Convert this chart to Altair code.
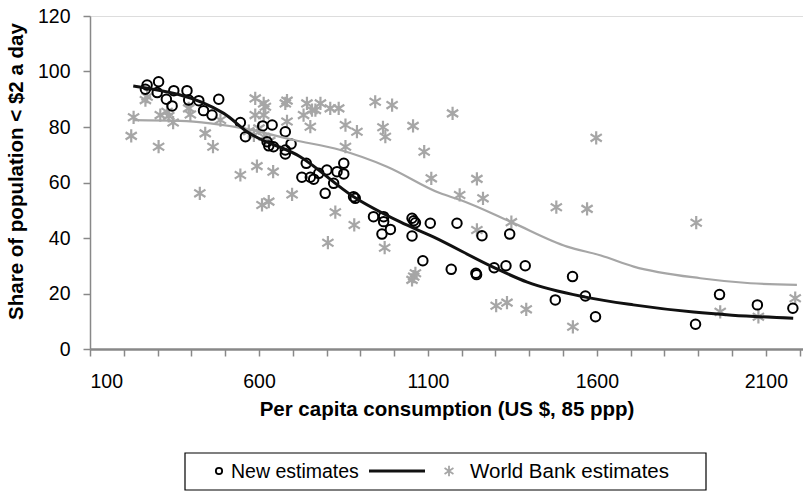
import altair as alt
import pandas as pd

# New estimates (open circles)
new_x = [269, 264, 303, 299, 326, 348, 343, 387, 392, 422, 436, 461, 481, 545, 560,
         611, 639, 678, 624, 629, 643, 678, 678, 695, 740, 727, 752, 762, 777, 801,
         831, 851, 851, 821, 796, 880, 885, 939, 969, 969, 989, 964, 1053, 1058, 1063,
         1107, 1053, 1186, 1085, 1169, 1242, 1244, 1260, 1342, 1296, 1331, 1388, 1528,
         1477, 1566, 1596, 1892, 1963, 2075, 2180]
new_y = [95.1, 93.6, 96.3, 92.4, 90.0, 93.1, 87.6, 93.1, 89.7, 89.5, 85.9, 84.3, 90.0, 81.6, 76.5,
         80.4, 80.7, 78.3, 74.7, 73.2, 72.9, 71.7, 70.3, 73.9, 66.9, 61.9, 61.9, 61.2, 63.3, 64.5,
         63.9, 66.9, 63.1, 59.7, 56.1, 54.9, 54.3, 47.7, 47.7, 45.9, 43.1, 41.4, 47.1, 46.2, 45.5,
         45.3, 40.7, 45.3, 31.8, 28.7, 27.3, 26.8, 40.8, 41.4, 29.3, 30.0, 30.0, 26.1,
         17.7, 19.1, 11.6, 8.9, 19.6, 15.9, 14.7]

# World Bank estimates (asterisks)
wb_x = [222, 229, 264, 269, 303, 308, 328, 333, 346, 392, 397, 425, 441, 464, 486,
        545, 570, 585, 589, 589, 594, 600, 609, 614, 614, 619, 615, 629, 632, 642,
        678, 683, 683, 698, 732, 742, 752, 757, 767, 782, 804, 811, 826, 836, 856,
        856, 882, 890, 944, 967, 972, 974, 994, 1053, 1058, 1063, 1056, 1089, 1110, 1173,
        1194, 1245, 1245, 1263, 1302, 1334, 1347, 1391, 1480, 1529, 1571, 1598, 1894, 1965,
        2078, 2187]
wb_y = [76.8, 83.5, 89.7, 90.9, 72.9, 84.3, 85.5, 84.0, 81.6, 86.7, 84.5, 56.1, 77.7, 72.9, 82.5,
        62.7, 78.5, 77.0, 90.3, 84.3, 65.9, 79.5, 51.9, 88.5, 84.3, 87.3, 76.5, 53.1, 75.0, 63.9,
        88.5, 89.5, 82.0, 55.7, 84.3, 88.5, 80.1, 86.1, 86.1, 88.5, 38.3, 86.7, 49.3, 86.7, 80.7,
        72.9, 44.7, 78.3, 89.1, 79.9, 36.5, 76.5, 87.9, 24.9, 26.1, 27.3, 80.4, 71.1, 61.5, 84.9,
        55.5, 61.3, 42.9, 54.3, 15.6, 16.7, 45.7, 14.3, 51.1, 8.0, 50.5, 76.1, 45.5, 13.4,
        11.6, 18.3]

# Smoothed fits
new_fit_x = [228, 496, 565, 722, 880, 1018, 1116, 1293, 1394, 1566, 1708, 1886, 2000, 2181]
new_fit_y = [94.8, 84.9, 78.3, 69.3, 54.9, 45.8, 40.4, 29.5, 24.1, 18.7, 15.9, 13.3, 12.2, 11.1]
wb_fit_x = [229, 367, 456, 555, 703, 841, 979, 1137, 1196, 1344, 1512, 1612, 1709, 1906, 2054, 2192]
wb_fit_y = [82.5, 82.2, 81.3, 79.5, 75.3, 71.7, 65.7, 56.1, 53.7, 45.9, 36.9, 33.7, 29.7, 25.5, 23.7, 23.1]

legend_labels = ["New estimates", "World Bank estimates"]

FONT = "Liberation Sans"
GRAY = "#a6a6a6"
ASTERISK = "M0,-1L0,1M-0.85,-0.55L0.85,0.55M-0.85,0.55L0.85,-0.55"

new_df = pd.DataFrame({"x": new_x, "y": new_y})
wb_df = pd.DataFrame({"x": wb_x, "y": wb_y})
new_fit = pd.DataFrame({"x": new_fit_x, "y": new_fit_y})
wb_fit = pd.DataFrame({"x": wb_fit_x, "y": wb_fit_y})

x_scale = alt.Scale(domain=[100, 2210], nice=False, zero=False)
y_scale = alt.Scale(domain=[0, 120], nice=False)

x_enc = alt.X(
    "x:Q", scale=x_scale,
    axis=alt.Axis(
        title="Per capita consumption (US $, 85 ppp)",
        values=list(range(100, 2201, 100)),
        format="d",
        labelExpr="(datum.value - 100) % 500 == 0 ? datum.label : ''",
        grid=False, tickSize=7, labelPadding=16, titlePadding=9,
        labelFontSize=19.5, titleFontSize=20.5, titleFontWeight="bold",
        domainWidth=2.5, tickWidth=1.5,
    ),
)
y_enc = alt.Y(
    "y:Q", scale=y_scale,
    axis=alt.Axis(
        title="Share of population < $2 a day",
        values=list(range(0, 121, 20)),
        grid=False, tickSize=7, labelPadding=13, titlePadding=11,
        titleY=155,
        labelFontSize=19.5, titleFontSize=20.5, titleFontWeight="bold",
        domainWidth=1.5, tickWidth=1.5,
    ),
)

wb_pts = alt.Chart(wb_df).mark_point(
    shape=ASTERISK, stroke=GRAY, strokeWidth=2.2, size=175, filled=False, opacity=1
).encode(x=x_enc, y=y_enc)

new_pts = alt.Chart(new_df).mark_point(
    shape="circle", stroke="black", strokeWidth=2, size=90, filled=False, opacity=1
).encode(x=x_enc, y=y_enc)

wb_line = alt.Chart(wb_fit).mark_line(
    color=GRAY, strokeWidth=2.2, interpolate="monotone"
).encode(x=x_enc, y=y_enc)

new_line = alt.Chart(new_fit).mark_line(
    color="#111111", strokeWidth=3, interpolate="monotone"
).encode(x=x_enc, y=y_enc)

# Boxed key below the axis title
key_df = pd.DataFrame({"k": [0]})
key_base = alt.Chart(key_df)
key_box = key_base.mark_rect(fill="white", stroke="black", strokeWidth=1.2).encode(
    x=alt.value(95), x2=alt.value(616), y=alt.value(437), y2=alt.value(474)
)
key_circle = key_base.mark_point(
    shape="circle", stroke="black", strokeWidth=1.8, size=40, filled=False, opacity=1
).encode(x=alt.value(129), y=alt.value(455))
key_new = key_base.mark_text(
    text=legend_labels[0], align="left", baseline="middle", fontSize=19.5, font=FONT
).encode(x=alt.value(141), y=alt.value(456))
key_line = key_base.mark_rule(color="#111111", strokeWidth=3).encode(
    x=alt.value(279), x2=alt.value(335), y=alt.value(455)
)
key_star = key_base.mark_point(
    shape=ASTERISK, stroke=GRAY, strokeWidth=1.8, size=110, filled=False, opacity=1
).encode(x=alt.value(359), y=alt.value(455))
key_wb = key_base.mark_text(
    text=legend_labels[1], align="left", baseline="middle", fontSize=20.5, font=FONT
).encode(x=alt.value(380), y=alt.value(456))

chart = alt.layer(
    wb_pts, new_pts, wb_line, new_line,
    key_box, key_circle, key_new, key_line, key_star, key_wb,
).properties(
    width=713, height=333,
    autosize=alt.AutoSizeParams(type="none"),
    padding={"left": 90, "top": 16, "right": 0, "bottom": 143},
).configure_view(
    stroke=None, clip=False
).configure_axis(
    labelFont=FONT, titleFont=FONT, labelColor="#111111", titleColor="#111111",
    domainColor="#111111", tickColor="#111111",
).configure(
    background="white"
)

chart.save("out.html", embed_options={"renderer": "svg", "actions": False})
